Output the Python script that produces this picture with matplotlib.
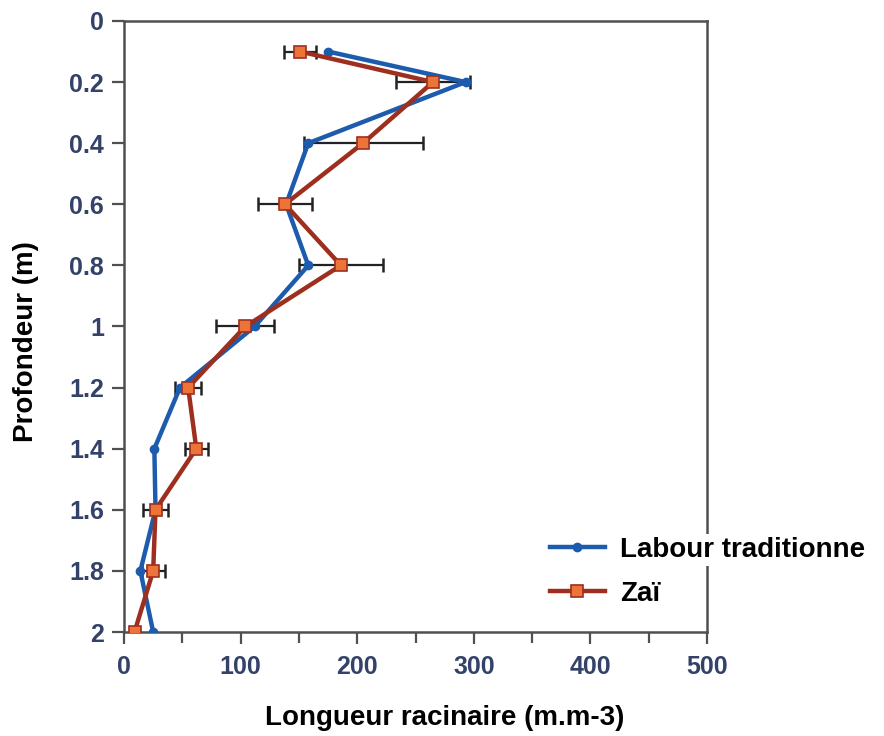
import numpy as np
import matplotlib
matplotlib.use('Agg')
import matplotlib.pyplot as plt
from matplotlib.ticker import MultipleLocator

depth = [0.1, 0.2, 0.4, 0.6, 0.8, 1.0, 1.2, 1.4, 1.6, 1.8, 2.0]
labour = [175, 293, 158, 139, 158, 112, 48, 26, 27, 14, 25]
zai = [151, 265, 205, 138, 186, 104, 55, 62, 27, 25, 9]
zai_err = [14, 32, 51, 23, 36, 25, 11, 10, 11, 10, 0]

y_ticks = [0, 0.2, 0.4, 0.6, 0.8, 1, 1.2, 1.4, 1.6, 1.8, 2]
y_labels = ['0', '0.2', '0.4', '0.6', '0.8', '1', '1.2', '1.4', '1.6', '1.8', '2']
x_ticks = [0, 100, 200, 300, 400, 500]

plt.rcParams['font.family'] = ['Liberation Sans', 'DejaVu Sans']

fig = plt.figure(figsize=(8.84, 7.36), dpi=100)
ax = fig.add_axes([0.1403, 0.1413, 0.6595, 0.8302])

blue = '#1d5cad'
brown = '#9e2f1f'
orange = '#ec7438'
tick_col = '#34426a'
spine_col = '#505050'

ax.errorbar(zai, depth, xerr=zai_err, fmt='none', ecolor='#222222',
            elinewidth=1.6, capsize=5, capthick=1.8, zorder=2)
ax.plot(labour, depth, color=blue, lw=3.2, marker='o', ms=6,
        mfc=blue, mec=blue, label='Labour traditionne', zorder=3)
ax.plot(zai, depth, color=brown, lw=3.2, marker='s', ms=8,
        mfc=orange, mec=brown, mew=1.2, label='Zaï', zorder=4)

ax.set_xlim(0, 500)
ax.set_ylim(2, 0)
ax.set_xticks(x_ticks)
ax.xaxis.set_minor_locator(MultipleLocator(50))
ax.set_yticks(y_ticks)
ax.set_yticklabels(y_labels)

for s in ax.spines.values():
    s.set_color(spine_col)
    s.set_linewidth(1.8)

ax.tick_params(axis='both', which='major', direction='out', length=8.5, width=1.6,
               color=spine_col, labelsize=18, labelcolor=tick_col)
ax.tick_params(axis='x', which='major', pad=8)
ax.tick_params(axis='y', which='major', pad=6)
ax.tick_params(axis='x', which='minor', direction='out', length=8, width=1.6,
               color=spine_col)
for lab in ax.get_xticklabels() + ax.get_yticklabels():
    lab.set_fontweight('bold')

ax.set_xlabel('Longueur racinaire (m.m-3)', fontsize=20, fontweight='bold')
ax.set_ylabel('Profondeur (m)', fontsize=20, fontweight='bold')
ax.xaxis.set_label_coords(0.55, -0.12)
ax.yaxis.set_label_coords(-0.145, 0.475)

leg = ax.legend(loc='center left', bbox_to_anchor=(0.73, 0.098), frameon=False,
                handlelength=2.0, handletextpad=0.55, labelspacing=0.65,
                borderpad=0, borderaxespad=0,
                prop={'weight': 'bold', 'size': 20})
leg.get_texts()[0].set_bbox(dict(facecolor='white', edgecolor='none', pad=2))

fig.savefig('out.png', dpi=100)
